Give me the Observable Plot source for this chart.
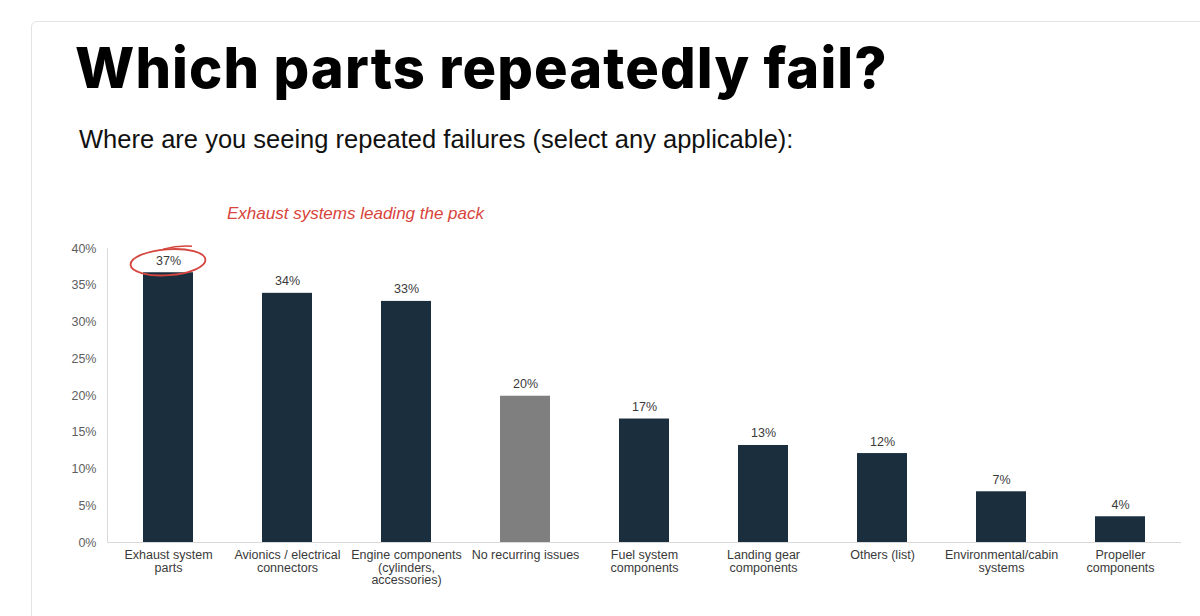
<!DOCTYPE html>
<html>
<head>
<meta charset="utf-8">
<script src="https://cdn.jsdelivr.net/npm/d3@7"></script>
<script src="https://cdn.jsdelivr.net/npm/@observablehq/plot@0.6"></script>
<style>
  html, body { margin: 0; padding: 0; background: #fff; width: 1200px; height: 616px; overflow: hidden; }
  #card { position: absolute; left: 31px; top: 21px; width: 1300px; height: 700px; border: 1.5px solid #e3e3e3; border-radius: 6px; box-sizing: border-box; }
  #title { position: absolute; left: 75px; top: 34px; margin: 0; font-family: Inter, "Noto Sans", sans-serif; font-weight: 800; font-size: 56px; letter-spacing: 1.1px; color: #000; white-space: nowrap; }
  #subtitle { position: absolute; left: 79px; top: 125px; margin: 0; font-family: "Liberation Sans", Arial, sans-serif; font-size: 25.5px; color: #111; white-space: nowrap; }
  #note { position: absolute; left: 227px; top: 204px; margin: 0; font-family: "Liberation Sans", Arial, sans-serif; font-style: italic; font-size: 17px; color: #d8443c; white-space: nowrap; }
  #chart { position: absolute; left: 0; top: 200px; }
</style>
</head>
<body>
<div id="card"></div>
<h1 id="title">Which parts repeatedly fail?</h1>
<p id="subtitle">Where are you seeing repeated failures (select any applicable):</p>
<p id="note">Exhaust systems leading the pack</p>
<div id="chart"></div>
<script>
const categories = [
  "Exhaust system\nparts",
  "Avionics / electrical\nconnectors",
  "Engine components\n(cylinders,\naccessories)",
  "No recurring issues",
  "Fuel system\ncomponents",
  "Landing gear\ncomponents",
  "Others (list)",
  "Environmental/cabin\nsystems",
  "Propeller\ncomponents"
];
const values = [36.7, 33.9, 32.8, 19.9, 16.8, 13.2, 12.1, 6.9, 3.5];
const valueLabels = ["37%", "34%", "33%", "20%", "17%", "13%", "12%", "7%", "4%"];
const groups = ["part", "part", "part", "none", "part", "part", "part", "part", "part"];
const yTicks = [0, 5, 10, 15, 20, 25, 30, 35, 40];
const yTickLabels = ["0%", "5%", "10%", "15%", "20%", "25%", "30%", "35%", "40%"];

const data = categories.map((c, i) => ({category: c, value: values[i], label: valueLabels[i], group: groups[i]}));

const chart = Plot.plot({
  width: 1200,
  height: 400,
  marginTop: 48,
  marginBottom: 58,
  marginLeft: 107,
  marginRight: 19,
  style: { fontFamily: "'Liberation Sans', Arial, sans-serif", background: "transparent" },
  x: { domain: categories, paddingInner: 0.58, paddingOuter: 0.29, label: null },
  y: { domain: [0, 40], label: null },
  color: { domain: ["part", "none"], range: ["#1a2e3e", "#7f7f7f"] },
  marks: [
    Plot.frame({ anchor: "left", stroke: "#d9d9d9", strokeWidth: 1 }),
    Plot.barY(data, { x: "category", y: "value", fill: "group" }),
    Plot.ruleY([0], { stroke: "#d9d9d9", strokeWidth: 1 }),
    Plot.text(data, { x: "category", y: "value", text: "label", dy: -12, fontSize: 12.5, fill: "#3a3a3a" }),
    Plot.axisY({ ticks: yTicks, tickFormat: (d) => yTickLabels[yTicks.indexOf(d)], tickSize: 0, tickPadding: 11, fontSize: 12.5, color: "#5e5e5e", label: null }),
    Plot.axisX({ tickSize: 0, tickPadding: 8, fontSize: 12.5, color: "#3a3a3a", lineHeight: 1.0, label: null, textOverflow: null })
  ]
});
document.getElementById("chart").appendChild(chart);

// hand-drawn-style circle around the top value, positioned through the chart's scales
const xs = chart.scale("x"), ys = chart.scale("y");
const cx = xs.apply(categories[0]) + xs.bandwidth / 2;
const cy = ys.apply(values[0]) - 10;
const svg = d3.select(chart);
svg.append("ellipse")
  .attr("cx", cx).attr("cy", cy)
  .attr("rx", 37.5).attr("ry", 13)
  .attr("transform", `rotate(-4 ${cx} ${cy})`)
  .attr("fill", "none").attr("stroke", "#d5463f").attr("stroke-width", 1.8);
svg.append("path")
  .attr("d", `M${cx - 5},${cy - 13} Q${cx + 10},${cy - 17} ${cx + 24},${cy - 16}`)
  .attr("fill", "none").attr("stroke", "#d5463f").attr("stroke-width", 1.5);
</script>
</body>
</html>
